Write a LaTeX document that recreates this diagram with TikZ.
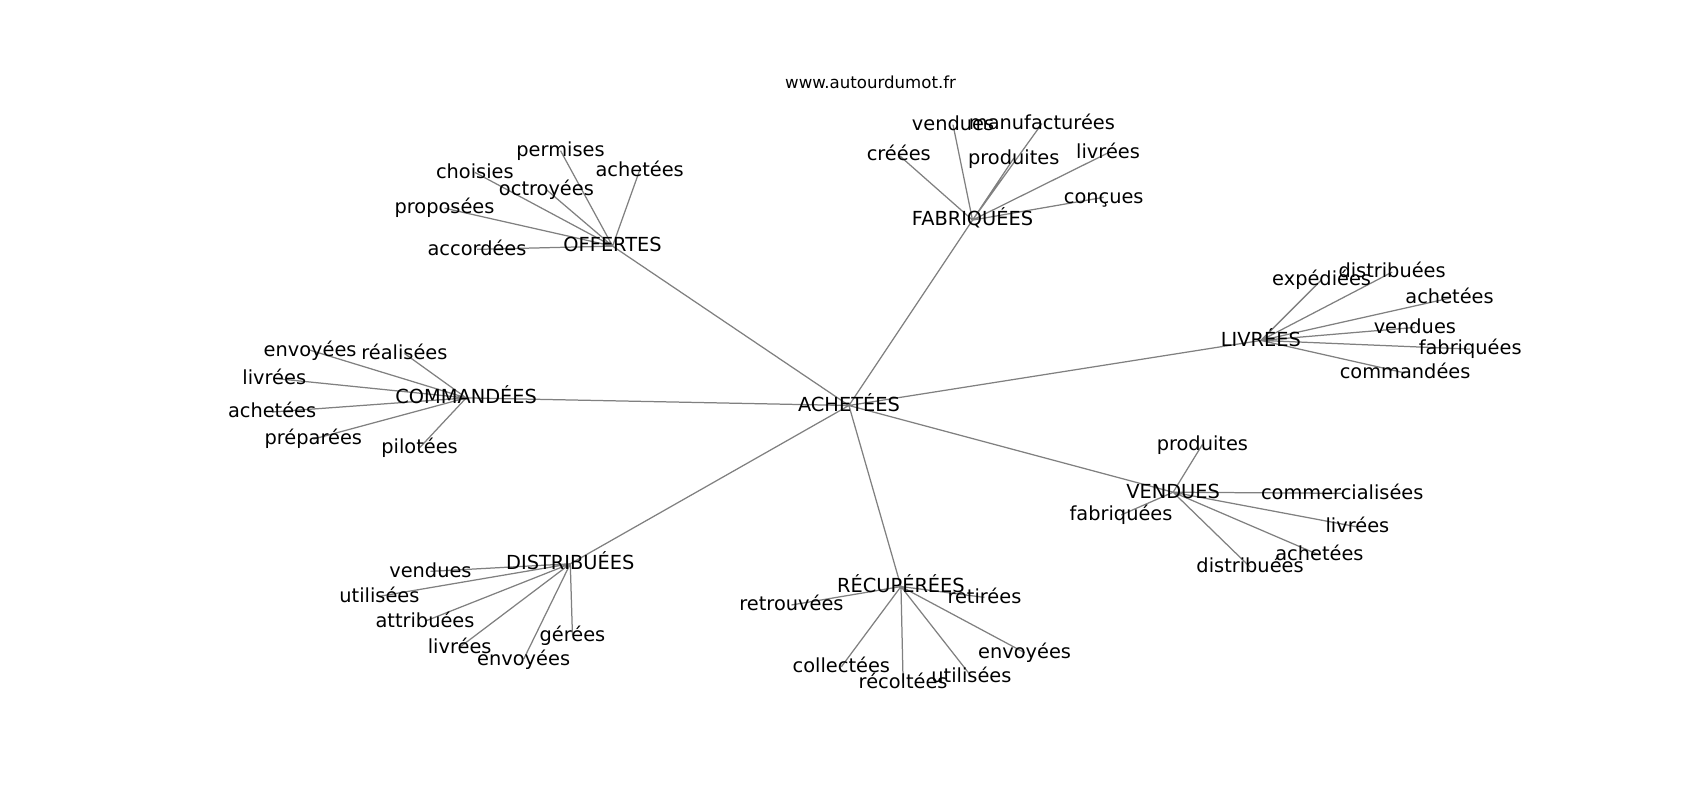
\documentclass[tikz,border=0pt]{standalone}
\usepackage{fontspec}
\setmainfont{DejaVu Sans}
\usetikzlibrary{backgrounds}

\begin{document}
\begin{tikzpicture}[x=0.2754mm,y=-0.2754mm,
    word/.style={inner sep=0pt,text height=0.92em,text depth=0.08em,font=\fontsize{14}{16}\selectfont},
    link/.style={draw=gray,line width=0.9pt}]
    \useasboundingbox (0,0) rectangle (1568,738);
    \node[inner sep=0pt,font=\fontsize{12}{14}\selectfont] (title) at (803,76) {www.autourdumot.fr};
    % centre and the eight groups
    \node[word] (ach) at (783,374) {ACHETÉES};
    \node[word] (off) at (565,227) {OFFERTES};
    \node[word] (fab) at (897,203) {FABRIQUÉES};
    \node[word] (liv) at (1163,314) {LIVRÉES};
    \node[word] (com) at (430,367) {COMMANDÉES};
    \node[word] (ven) at (1082,454) {VENDUES};
    \node[word] (dis) at (526,520) {DISTRIBUÉES};
    \node[word] (rec) at (831,541) {RÉCUPÉRÉES};
    % offertes
    \node[word] (of1) at (517,139) {permises};
    \node[word] (of2) at (590,157) {achetées};
    \node[word] (of3) at (438,159) {choisies};
    \node[word] (of4) at (504,175) {octroyées};
    \node[word] (of5) at (410,192) {proposées};
    \node[word] (of6) at (440,230) {accordées};
    % fabriquees
    \node[word] (fa1) at (879,115) {vendues};
    \node[word] (fa2) at (961,114) {manufacturées};
    \node[word] (fa3) at (829,143) {créées};
    \node[word] (fa4) at (935,146) {produites};
    \node[word] (fa5) at (1022,141) {livrées};
    \node[word] (fa6) at (1018,182) {conçues};
    % livrees
    \node[word] (li1) at (1219,258) {expédiées};
    \node[word] (li2) at (1284,251) {distribuées};
    \node[word] (li3) at (1337,275) {achetées};
    \node[word] (li4) at (1305,302) {vendues};
    \node[word] (li5) at (1356,322) {fabriquées};
    \node[word] (li6) at (1296,344) {commandées};
    % commandees
    \node[word] (co1) at (286,323) {envoyées};
    \node[word] (co2) at (373,326) {réalisées};
    \node[word] (co3) at (253,349) {livrées};
    \node[word] (co4) at (251,380) {achetées};
    \node[word] (co5) at (289,405) {préparées};
    \node[word] (co6) at (387,413) {pilotées};
    % vendues
    \node[word] (ve1) at (1109,410) {produites};
    \node[word] (ve2) at (1034,475) {fabriquées};
    \node[word] (ve3) at (1238,455) {commercialisées};
    \node[word] (ve4) at (1252,486) {livrées};
    \node[word] (ve5) at (1217,512) {achetées};
    \node[word] (ve6) at (1153,523) {distribuées};
    % distribuees
    \node[word] (di1) at (397,527) {vendues};
    \node[word] (di2) at (350,550) {utilisées};
    \node[word] (di3) at (392,573) {attribuées};
    \node[word] (di4) at (424,597) {livrées};
    \node[word] (di5) at (483,608) {envoyées};
    \node[word] (di6) at (528,586) {gérées};
    % recuperees
    \node[word] (re1) at (730,558) {retrouvées};
    \node[word] (re2) at (908,551) {retirées};
    \node[word] (re3) at (776,615) {collectées};
    \node[word] (re4) at (833,630) {récoltées};
    \node[word] (re5) at (896,624) {utilisées};
    \node[word] (re6) at (945,602) {envoyées};
    \begin{scope}[on background layer]
    \draw[link] (ach.center) -- (off.center) (ach.center) -- (fab.center)
        (ach.center) -- (liv.center) (ach.center) -- (com.center)
        (ach.center) -- (ven.center) (ach.center) -- (dis.center)
        (ach.center) -- (rec.center);
    \draw[link] (off.center) -- (of1.center) (off.center) -- (of2.center) (off.center) -- (of3.center)
        (off.center) -- (of4.center) (off.center) -- (of5.center) (off.center) -- (of6.center);
    \draw[link] (fab.center) -- (fa1.center) (fab.center) -- (fa2.center) (fab.center) -- (fa3.center)
        (fab.center) -- (fa4.center) (fab.center) -- (fa5.center) (fab.center) -- (fa6.center);
    \draw[link] (liv.center) -- (li1.center) (liv.center) -- (li2.center) (liv.center) -- (li3.center)
        (liv.center) -- (li4.center) (liv.center) -- (li5.center) (liv.center) -- (li6.center);
    \draw[link] (com.center) -- (co1.center) (com.center) -- (co2.center) (com.center) -- (co3.center)
        (com.center) -- (co4.center) (com.center) -- (co5.center) (com.center) -- (co6.center);
    \draw[link] (ven.center) -- (ve1.center) (ven.center) -- (ve2.center) (ven.center) -- (ve3.center)
        (ven.center) -- (ve4.center) (ven.center) -- (ve5.center) (ven.center) -- (ve6.center);
    \draw[link] (dis.center) -- (di1.center) (dis.center) -- (di2.center) (dis.center) -- (di3.center)
        (dis.center) -- (di4.center) (dis.center) -- (di5.center) (dis.center) -- (di6.center);
    \draw[link] (rec.center) -- (re1.center) (rec.center) -- (re2.center) (rec.center) -- (re3.center)
        (rec.center) -- (re4.center) (rec.center) -- (re5.center) (rec.center) -- (re6.center);
    \end{scope}
\end{tikzpicture}
\end{document}
